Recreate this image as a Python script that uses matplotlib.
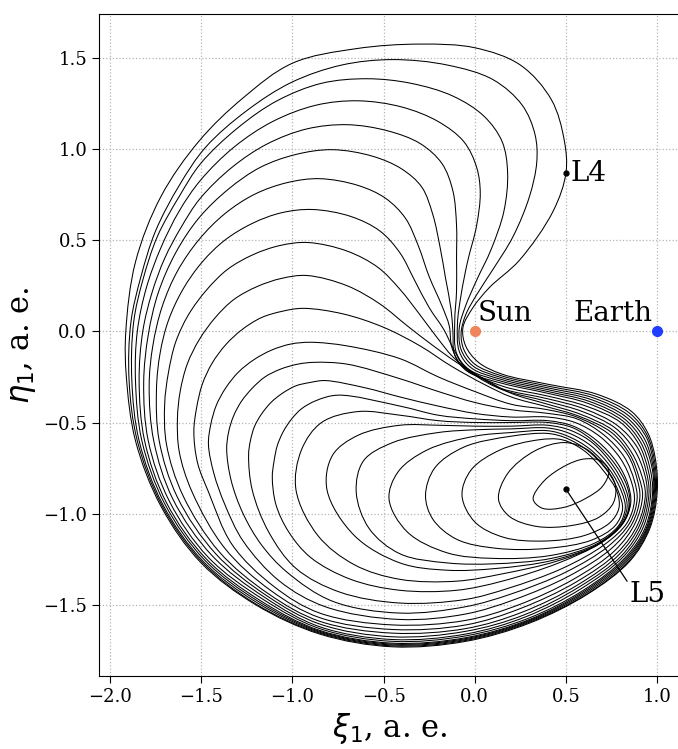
import numpy as np
import matplotlib
matplotlib.use("Agg")
import matplotlib.pyplot as plt
from matplotlib.path import Path
from matplotlib.patches import PathPatch

plt.rcParams['font.family'] = ['DejaVu Serif']
plt.rcParams['mathtext.fontset'] = 'dejavusans'

# loops of the trajectory (xi, eta), clockwise from the top
loop_01 = [(-0.30, 1.575), (0.00, 1.555), (0.25, 1.46), (0.42, 1.27), (0.49, 1.05), (0.50, 0.87),
           (0.43, 0.66), (0.245, 0.39), (0.08, 0.24), (-0.01, 0.13), (-0.065, 0.02), (-0.05, -0.08),
           (0.02, -0.17), (0.15, -0.235), (0.40, -0.29), (0.67, -0.345), (0.86, -0.44), (0.95, -0.56),
           (0.99, -0.70), (1.00, -0.88), (0.96, -1.08), (0.85, -1.26), (0.62, -1.44), (0.30, -1.60),
           (-0.05, -1.70), (-0.45, -1.73), (-0.85, -1.66), (-1.20, -1.50), (-1.50, -1.27), (-1.72, -0.96),
           (-1.86, -0.60), (-1.91, -0.25), (-1.913, 0.00), (-1.86, 0.38), (-1.72, 0.74), (-1.51, 1.045),
           (-1.27, 1.28), (-1.00, 1.47), (-0.65, 1.55)]
loop_02 = [(-0.45, 1.49), (-0.15, 1.46), (0.10, 1.38), (0.26, 1.24), (0.33, 1.08), (0.34, 0.93),
           (0.30, 0.74), (0.21, 0.52), (0.10, 0.34), (0.01, 0.20), (-0.05, 0.09), (-0.075, -0.01),
           (-0.06, -0.10), (0.00, -0.18), (0.15, -0.245), (0.40, -0.30), (0.66, -0.355), (0.85, -0.45),
           (0.945, -0.57), (0.985, -0.71), (0.995, -0.88), (0.955, -1.08), (0.845, -1.26), (0.615, -1.44),
           (0.30, -1.595), (-0.05, -1.695), (-0.45, -1.725), (-0.85, -1.655), (-1.20, -1.495),
           (-1.495, -1.265), (-1.715, -0.955), (-1.85, -0.60), (-1.895, -0.27), (-1.885, 0.05),
           (-1.83, 0.30), (-1.75, 0.55), (-1.62, 0.80), (-1.475, 1.01), (-1.25, 1.21), (-1.005, 1.365),
           (-0.73, 1.46)]
loop_03 = [(-0.59, 1.385), (-0.35, 1.36), (-0.12, 1.29), (0.05, 1.18), (0.15, 1.04), (0.18, 0.87),
           (0.16, 0.66), (0.09, 0.45), (0.01, 0.28), (-0.05, 0.14), (-0.085, 0.02), (-0.075, -0.10),
           (-0.01, -0.19), (0.15, -0.255), (0.40, -0.31), (0.65, -0.365), (0.84, -0.46), (0.94, -0.58),
           (0.98, -0.72), (0.99, -0.88), (0.95, -1.08), (0.84, -1.255), (0.61, -1.435), (0.30, -1.59),
           (-0.05, -1.69), (-0.45, -1.72), (-0.85, -1.65), (-1.19, -1.49), (-1.49, -1.26), (-1.71, -0.95),
           (-1.84, -0.60), (-1.88, -0.27), (-1.87, 0.05), (-1.82, 0.28), (-1.74, 0.52), (-1.62, 0.74),
           (-1.502, 0.921), (-1.30, 1.115), (-1.084, 1.264), (-0.84, 1.36)]
loop_04 = [(-0.64, 1.264), (-0.40, 1.23), (-0.20, 1.15), (-0.06, 1.04), (0.01, 0.90), (0.03, 0.76),
           (0.01, 0.58), (-0.04, 0.38), (-0.075, 0.20), (-0.095, 0.04), (-0.085, -0.11), (-0.02, -0.20),
           (0.15, -0.265), (0.40, -0.32), (0.64, -0.375), (0.83, -0.47), (0.93, -0.59), (0.975, -0.73),
           (0.985, -0.88), (0.945, -1.08), (0.835, -1.25), (0.605, -1.43), (0.30, -1.585), (-0.05, -1.685),
           (-0.45, -1.715), (-0.85, -1.645), (-1.18, -1.485), (-1.48, -1.255), (-1.70, -0.945),
           (-1.825, -0.60), (-1.86, -0.27), (-1.85, 0.00), (-1.80, 0.24), (-1.72, 0.46), (-1.62, 0.66),
           (-1.503, 0.829), (-1.32, 1.01), (-1.107, 1.151), (-0.87, 1.24)]
loop_05 = [(-0.70, 1.133), (-0.48, 1.10), (-0.30, 1.03), (-0.18, 0.92), (-0.12, 0.77), (-0.10, 0.58),
           (-0.10, 0.40), (-0.10, 0.22), (-0.11, 0.05), (-0.10, -0.12), (-0.03, -0.21), (0.15, -0.275),
           (0.40, -0.33), (0.63, -0.385), (0.82, -0.48), (0.92, -0.60), (0.97, -0.74), (0.98, -0.88),
           (0.94, -1.08), (0.83, -1.245), (0.60, -1.425), (0.30, -1.58), (-0.05, -1.68), (-0.45, -1.71),
           (-0.85, -1.64), (-1.17, -1.48), (-1.47, -1.25), (-1.69, -0.94), (-1.81, -0.60), (-1.84, -0.27),
           (-1.82, 0.00), (-1.77, 0.21), (-1.70, 0.40), (-1.61, 0.57), (-1.506, 0.728), (-1.33, 0.90),
           (-1.137, 1.028), (-0.92, 1.11)]
loop_06 = [(-0.78, 0.996), (-0.56, 0.96), (-0.40, 0.89), (-0.29, 0.79), (-0.23, 0.64), (-0.19, 0.46),
           (-0.16, 0.29), (-0.13, 0.12), (-0.12, 0.00), (-0.11, -0.13), (-0.04, -0.22), (0.15, -0.285),
           (0.40, -0.34), (0.62, -0.395), (0.81, -0.49), (0.91, -0.61), (0.96, -0.75), (0.975, -0.88),
           (0.935, -1.075), (0.825, -1.24), (0.595, -1.42), (0.29, -1.575), (-0.05, -1.67), (-0.45, -1.70),
           (-0.85, -1.63), (-1.16, -1.47), (-1.46, -1.24), (-1.675, -0.93), (-1.79, -0.60), (-1.815, -0.28),
           (-1.79, -0.02), (-1.736, 0.209), (-1.64, 0.43), (-1.512, 0.622), (-1.35, 0.78), (-1.176, 0.899),
           (-0.98, 0.97)]
loop_07 = [(-0.85, 0.837), (-0.64, 0.80), (-0.49, 0.73), (-0.38, 0.62), (-0.31, 0.47), (-0.25, 0.30),
           (-0.18, 0.14), (-0.14, 0.03), (-0.125, -0.09), (-0.06, -0.20), (0.15, -0.30), (0.40, -0.355),
           (0.61, -0.41), (0.80, -0.50), (0.90, -0.62), (0.95, -0.76), (0.965, -0.88), (0.925, -1.07),
           (0.815, -1.235), (0.585, -1.41), (0.28, -1.565), (-0.05, -1.66), (-0.45, -1.69), (-0.85, -1.62),
           (-1.15, -1.46), (-1.44, -1.23), (-1.655, -0.92), (-1.76, -0.60), (-1.785, -0.30), (-1.765, -0.08),
           (-1.714, 0.135), (-1.63, 0.33), (-1.511, 0.504), (-1.37, 0.645), (-1.208, 0.751), (-1.03, 0.815)]
loop_08 = [(-0.89, 0.668), (-0.68, 0.63), (-0.52, 0.55), (-0.41, 0.43), (-0.33, 0.28), (-0.25, 0.13),
           (-0.17, 0.01), (-0.12, -0.09), (-0.06, -0.19), (0.05, -0.265), (0.15, -0.315), (0.40, -0.37),
           (0.60, -0.425), (0.78, -0.515), (0.89, -0.635), (0.94, -0.77), (0.955, -0.885), (0.915, -1.065),
           (0.805, -1.23), (0.575, -1.40), (0.27, -1.555), (-0.05, -1.645), (-0.45, -1.675), (-0.85, -1.605),
           (-1.14, -1.45), (-1.42, -1.22), (-1.63, -0.91), (-1.73, -0.60), (-1.745, -0.32), (-1.725, -0.12),
           (-1.68, 0.058), (-1.60, 0.23), (-1.495, 0.379), (-1.37, 0.50), (-1.217, 0.593), (-1.06, 0.65)]
loop_09 = [(-0.915, 0.487), (-0.70, 0.44), (-0.53, 0.35), (-0.41, 0.23), (-0.30, 0.09), (-0.21, -0.03),
           (-0.12, -0.14), (0.00, -0.24), (0.15, -0.32), (0.40, -0.385), (0.59, -0.44), (0.77, -0.53),
           (0.875, -0.65), (0.93, -0.78), (0.945, -0.89), (0.905, -1.06), (0.795, -1.22), (0.565, -1.39),
           (0.26, -1.54), (-0.05, -1.63), (-0.45, -1.655), (-0.85, -1.59), (-1.13, -1.44), (-1.40, -1.21),
           (-1.60, -0.90), (-1.69, -0.62), (-1.70, -0.40), (-1.68, -0.23), (-1.64, -0.06), (-1.57, 0.09),
           (-1.47, 0.227), (-1.355, 0.34), (-1.216, 0.42), (-1.07, 0.47)]
loop_10 = [(-0.92, 0.306), (-0.70, 0.25), (-0.52, 0.15), (-0.37, 0.03), (-0.24, -0.07), (-0.10, -0.17),
           (0.05, -0.26), (0.20, -0.34), (0.40, -0.40), (0.58, -0.455), (0.76, -0.545), (0.86, -0.665),
           (0.915, -0.79), (0.935, -0.895), (0.895, -1.055), (0.785, -1.21), (0.555, -1.375), (0.25, -1.52),
           (-0.05, -1.61), (-0.45, -1.635), (-0.85, -1.57), (-1.12, -1.42), (-1.37, -1.19), (-1.55, -0.88),
           (-1.62, -0.66), (-1.63, -0.48), (-1.615, -0.33), (-1.576, -0.179), (-1.51, -0.045),
           (-1.422, 0.076), (-1.32, 0.175), (-1.192, 0.246), (-1.06, 0.29)]
loop_11 = [(-0.94, 0.126), (-0.72, 0.095), (-0.50, 0.022), (-0.30, -0.08), (-0.13, -0.19), (0.05, -0.29),
           (0.20, -0.36), (0.40, -0.415), (0.57, -0.465), (0.75, -0.555), (0.85, -0.675), (0.90, -0.80),
           (0.92, -0.90), (0.88, -1.05), (0.77, -1.20), (0.54, -1.36), (0.24, -1.50), (-0.05, -1.585),
           (-0.45, -1.61), (-0.85, -1.545), (-1.10, -1.40), (-1.33, -1.17), (-1.46, -0.88), (-1.52, -0.72),
           (-1.54, -0.55), (-1.525, -0.42), (-1.494, -0.291), (-1.44, -0.175), (-1.364, -0.072),
           (-1.275, 0.01), (-1.17, 0.075), (-1.055, 0.11)]
loop_12 = [(-0.90, -0.06), (-0.70, -0.08), (-0.41, -0.15), (-0.20, -0.25), (0.00, -0.33), (0.20, -0.40),
           (0.40, -0.43), (0.56, -0.47), (0.73, -0.56), (0.84, -0.68), (0.89, -0.81), (0.905, -0.91),
           (0.865, -1.05), (0.75, -1.19), (0.52, -1.34), (0.22, -1.47), (-0.05, -1.55), (-0.41, -1.58),
           (-0.82, -1.51), (-1.07, -1.37), (-1.27, -1.15), (-1.37, -0.95), (-1.43, -0.78), (-1.46, -0.62),
           (-1.447, -0.51), (-1.417, -0.406), (-1.365, -0.31), (-1.296, -0.224), (-1.21, -0.155),
           (-1.114, -0.103), (-1.01, -0.07)]
loop_13 = [(-0.88, -0.17), (-0.70, -0.18), (-0.41, -0.26), (-0.20, -0.33), (0.00, -0.39), (0.20, -0.43),
           (0.40, -0.45), (0.56, -0.48), (0.71, -0.57), (0.82, -0.69), (0.875, -0.82), (0.89, -0.92),
           (0.85, -1.05), (0.73, -1.18), (0.50, -1.32), (0.20, -1.44), (-0.05, -1.51), (-0.41, -1.545),
           (-0.78, -1.48), (-1.03, -1.32), (-1.17, -1.17), (-1.27, -1.00), (-1.335, -0.82), (-1.36, -0.65),
           (-1.35, -0.555), (-1.323, -0.466), (-1.28, -0.385), (-1.219, -0.311), (-1.15, -0.25),
           (-1.064, -0.207), (-0.97, -0.18)]
loop_14 = [(-0.82, -0.27), (-0.60, -0.31), (-0.41, -0.36), (-0.20, -0.41), (0.00, -0.45), (0.20, -0.47),
           (0.40, -0.47), (0.55, -0.50), (0.69, -0.58), (0.80, -0.70), (0.86, -0.83), (0.875, -0.93),
           (0.835, -1.05), (0.71, -1.17), (0.48, -1.30), (0.18, -1.41), (-0.05, -1.47), (-0.41, -1.49),
           (-0.74, -1.43), (-0.98, -1.30), (-1.13, -1.10), (-1.22, -0.87), (-1.24, -0.68), (-1.23, -0.60),
           (-1.208, -0.523), (-1.17, -0.455), (-1.117, -0.39), (-1.055, -0.34), (-0.981, -0.299),
           (-0.90, -0.28)]
loop_15 = [(-0.75, -0.35), (-0.41, -0.41), (-0.20, -0.46), (0.00, -0.48), (0.20, -0.49), (0.40, -0.49),
           (0.54, -0.52), (0.67, -0.60), (0.78, -0.72), (0.84, -0.84), (0.855, -0.94), (0.815, -1.05),
           (0.69, -1.16), (0.46, -1.27), (0.15, -1.37), (-0.10, -1.42), (-0.41, -1.42), (-0.68, -1.36),
           (-0.90, -1.24), (-1.02, -1.10), (-1.09, -0.95), (-1.11, -0.80), (-1.10, -0.71), (-1.083, -0.628),
           (-1.05, -0.55), (-1.005, -0.482), (-0.95, -0.425), (-0.87, -0.38)]
loop_16 = [(-0.98, -0.87), (-0.95, -0.65), (-0.84, -0.50), (-0.64, -0.44), (-0.41, -0.46), (-0.20, -0.49),
           (0.00, -0.50), (0.20, -0.50), (0.40, -0.50), (0.54, -0.53), (0.66, -0.61), (0.77, -0.73),
           (0.835, -0.85), (0.85, -0.95), (0.81, -1.055), (0.685, -1.165), (0.45, -1.26), (0.15, -1.33),
           (-0.10, -1.37), (-0.41, -1.36), (-0.66, -1.28), (-0.86, -1.12)]
loop_17 = [(-0.81, -0.87), (-0.78, -0.68), (-0.64, -0.57), (-0.41, -0.515), (-0.20, -0.515), (0.00, -0.52),
           (0.20, -0.52), (0.40, -0.515), (0.53, -0.545), (0.65, -0.615), (0.76, -0.74), (0.825, -0.86),
           (0.845, -0.96), (0.805, -1.06), (0.68, -1.165), (0.43, -1.255), (0.12, -1.30), (-0.15, -1.31),
           (-0.41, -1.27), (-0.66, -1.12)]
loop_18 = [(-0.65, -0.88), (-0.61, -0.71), (-0.45, -0.61), (-0.20, -0.555), (0.00, -0.54), (0.20, -0.535),
           (0.40, -0.53), (0.52, -0.56), (0.64, -0.63), (0.75, -0.75), (0.815, -0.87), (0.835, -0.965),
           (0.795, -1.065), (0.67, -1.165), (0.42, -1.245), (0.10, -1.275), (-0.15, -1.27), (-0.41, -1.22),
           (-0.58, -1.08)]
loop_19 = [(-0.47, -0.92), (-0.42, -0.77), (-0.26, -0.65), (0.00, -0.575), (0.20, -0.555), (0.40, -0.545),
           (0.51, -0.575), (0.63, -0.645), (0.74, -0.76), (0.805, -0.88), (0.825, -0.97), (0.785, -1.07),
           (0.66, -1.16), (0.41, -1.23), (0.10, -1.245), (-0.15, -1.215), (-0.37, -1.10)]
loop_20 = [(-0.27, -0.90), (-0.22, -0.75), (-0.06, -0.635), (0.20, -0.575), (0.40, -0.56), (0.50, -0.585),
           (0.62, -0.655), (0.73, -0.77), (0.79, -0.885), (0.81, -0.975), (0.77, -1.065), (0.64, -1.145),
           (0.40, -1.19), (0.12, -1.19), (-0.10, -1.14), (-0.23, -1.03)]
loop_21 = [(-0.07, -0.90), (-0.02, -0.76), (0.14, -0.65), (0.35, -0.595), (0.48, -0.595), (0.60, -0.655),
           (0.71, -0.77), (0.78, -0.88), (0.79, -0.97), (0.74, -1.05), (0.60, -1.12), (0.38, -1.15),
           (0.16, -1.13), (0.00, -1.045)]
loop_22 = [(0.13, -0.92), (0.18, -0.78), (0.33, -0.655), (0.49, -0.61), (0.61, -0.645), (0.71, -0.74),
           (0.77, -0.84), (0.76, -0.94), (0.68, -1.02), (0.53, -1.065), (0.34, -1.07), (0.19, -1.015)]
loop_23 = [(0.32, -0.92), (0.38, -0.82), (0.50, -0.735), (0.60, -0.70), (0.69, -0.71), (0.735, -0.765),
           (0.70, -0.85), (0.61, -0.915), (0.49, -0.965), (0.37, -0.97)]

loops = [loop_01, loop_02, loop_03, loop_04, loop_05, loop_06, loop_07, loop_08, loop_09, loop_10,
         loop_11, loop_12, loop_13, loop_14, loop_15, loop_16, loop_17, loop_18, loop_19, loop_20,
         loop_21, loop_22, loop_23]

sun = (0.0, 0.0)
earth = (1.0, 0.0)
l4 = (0.5, 0.866)
l5 = (0.5, -0.866)


def closed_smooth(points, alpha=0.5):
    # closed centripetal Catmull-Rom curve through the read points, drawn as Bezier segments
    p = np.asarray(points, dtype=float)
    n = len(p)
    verts = [p[0]]
    codes = [Path.MOVETO]
    for i in range(n):
        p0, p1, p2, p3 = p[i - 1], p[i], p[(i + 1) % n], p[(i + 2) % n]
        d1 = max(np.hypot(*(p1 - p0)), 1e-6) ** alpha
        d2 = max(np.hypot(*(p2 - p1)), 1e-6) ** alpha
        d3 = max(np.hypot(*(p3 - p2)), 1e-6) ** alpha
        b1 = (d1 ** 2 * p2 - d2 ** 2 * p0 + (2 * d1 ** 2 + 3 * d1 * d2 + d2 ** 2) * p1) / (3 * d1 * (d1 + d2))
        b2 = (d3 ** 2 * p1 - d2 ** 2 * p3 + (2 * d3 ** 2 + 3 * d3 * d2 + d2 ** 2) * p2) / (3 * d3 * (d3 + d2))
        verts += [b1, b2, p2]
        codes += [Path.CURVE4] * 3
    return Path(verts, codes)


fig = plt.figure(figsize=(6.78, 7.49), dpi=100)
ax = fig.add_axes([99 / 678, 73 / 749, 0.858, 662 / 749])

for lp in loops:
    ax.add_patch(PathPatch(closed_smooth(lp), fill=False, edgecolor='black', lw=0.75, zorder=2))

ax.plot(*sun, 'o', color='#f0845c', ms=7, zorder=4)
ax.plot(*earth, 'o', color='#1f3dff', ms=7, zorder=4)
ax.plot(*l4, 'o', color='black', ms=3.5, zorder=4)
ax.plot(*l5, 'o', color='black', ms=3.5, zorder=4)

ax.text(0.015, 0.025, 'Sun', fontsize=20, ha='left', va='bottom')
ax.text(0.975, 0.025, 'Earth', fontsize=20, ha='right', va='bottom')
ax.text(0.525, 0.866, 'L4', fontsize=20, ha='left', va='center')
ax.annotate('L5', xy=l5, xytext=(0.85, -1.445), fontsize=20, ha='left', va='center',
            arrowprops=dict(arrowstyle='-', color='black', lw=0.9, shrinkA=0, shrinkB=0,
                            relpos=(0.0, 0.85)))

ax.set_xlim(-2.06, 1.129)
ax.set_ylim(-1.89, 1.74)
ax.set_xticks(np.arange(-2.0, 1.01, 0.5))
ax.set_yticks(np.arange(-1.5, 1.51, 0.5))
ax.tick_params(labelsize=13, direction='out', length=5)
ax.grid(True, linestyle=':', color='#b5b5b5', lw=0.9)
ax.set_axisbelow(True)
ax.set_xlabel(r'$\xi_1$, a. e.', fontsize=22)
ax.set_ylabel(r'$\eta_1$, a. e.', fontsize=22)

fig.savefig('out.png', dpi=100)
